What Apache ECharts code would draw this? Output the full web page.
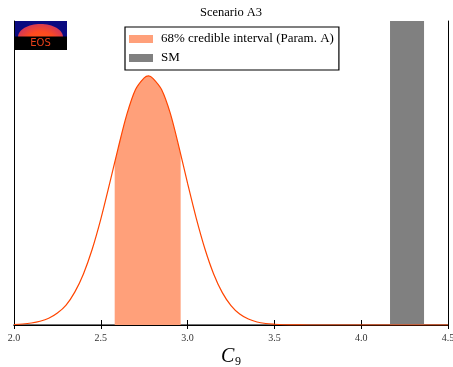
<!DOCTYPE html>
<html><head><meta charset="utf-8">
<script src="https://cdn.jsdelivr.net/npm/echarts@6/dist/echarts.min.js"></script>
<style>html,body{margin:0;padding:0;background:#fff}#c{width:453px;height:367px}</style>
</head><body><div id="c"></div>
<script>
// x ticks of the C9 axis
const xTicks = [2.0, 2.5, 3.0, 3.5, 4.0, 4.5];
// posterior curve (relative density)
const curveX = [2.00,2.05,2.10,2.15,2.20,2.25,2.30,2.35,2.40,2.45,2.50,2.55,2.60,2.65,2.70,2.75,2.775,2.80,2.85,2.90,2.95,3.00,3.05,3.10,3.15,3.20,3.25,3.30,3.35,3.40,3.45,3.50,3.55,3.60,3.70,3.80,3.90,4.00,4.10,4.20,4.30,4.40,4.50];
const curveY = [0.002,0.004,0.008,0.015,0.027,0.048,0.080,0.132,0.205,0.303,0.425,0.565,0.710,0.845,0.945,0.992,1.0,0.990,0.945,0.850,0.715,0.568,0.428,0.305,0.205,0.130,0.078,0.044,0.024,0.012,0.006,0.003,0.001,0.0005,0,0,0,0,0,0,0,0,0];
// 68% credible interval region
const intervalX = [2.58,2.60,2.65,2.70,2.75,2.775,2.80,2.85,2.90,2.95,2.96];
const intervalY = [0.652,0.710,0.845,0.945,0.992,1.0,0.990,0.945,0.850,0.715,0.683];
// Standard Model band
const smBand = [4.166, 4.362];
const intervalName = '68% credible interval (Param. A)';
const smName = 'SM';

const chart = echarts.init(document.getElementById('c'));
const serif = '"Liberation Serif", "DejaVu Serif", serif';
const zip = (xs, ys) => xs.map((x, i) => [x, ys[i]]);

chart.setOption({
  animation: false,
  backgroundColor: '#fff',
  grid: { left: 14, right: 5, top: 21, bottom: 42, outerBoundsMode: 'none', containLabel: false },
  legend: {
    orient: 'vertical',
    left: 125, top: 27,
    padding: [5, 5, 5, 4],
    itemGap: 5,
    itemWidth: 24, itemHeight: 8,
    borderColor: '#000', borderWidth: 1.2,
    backgroundColor: '#fff',
    textStyle: { fontFamily: serif, fontSize: 13, color: '#000', lineHeight: 14, padding: [0, 0, 0, 3] },
    data: [
      { name: intervalName, icon: 'rect', itemStyle: { color: '#FFA07A' } },
      { name: smName, icon: 'rect', itemStyle: { color: '#808080' } }
    ]
  },
  xAxis: [
    {
      type: 'value', min: xTicks[0], max: xTicks[xTicks.length - 1], interval: 0.5,
      position: 'bottom',
      axisLine: { lineStyle: { color: '#444', width: 1.5 } },
      axisTick: { show: true, inside: false, length: 4, lineStyle: { color: '#000' } },
      axisLabel: { fontFamily: serif, fontSize: 10, color: '#333', margin: 8,
        formatter: v => v.toFixed(1) },
      splitLine: { show: false }
    },
    {
      type: 'value', min: xTicks[0], max: xTicks[xTicks.length - 1], interval: 0.5,
      position: 'top',
      axisLine: { lineStyle: { color: '#000', width: 1 } },
      axisTick: { show: true, inside: false, length: 5, lineStyle: { color: '#000' } },
      axisLabel: { show: false },
      splitLine: { show: false }
    }
  ],
  yAxis: [
    { type: 'value', min: 0, max: 1.22, position: 'left',
      axisLine: { show: true, lineStyle: { color: '#000', width: 1 } },
      axisTick: { show: false }, axisLabel: { show: false }, splitLine: { show: false } },
    { type: 'value', min: 0, max: 1.22, position: 'right',
      axisLine: { show: true, lineStyle: { color: '#000', width: 1 } },
      axisTick: { show: false }, axisLabel: { show: false }, splitLine: { show: false } }
  ],
  series: [
    {
      name: smName, type: 'line', data: [], z: 1,
      itemStyle: { color: '#808080' },
      markArea: { silent: true, itemStyle: { color: '#808080', opacity: 1 },
        data: [[{ xAxis: smBand[0] }, { xAxis: smBand[1] }]] }
    },
    {
      name: intervalName, type: 'line', z: 2, smooth: 0.3, symbol: 'none',
      data: zip(intervalX, intervalY),
      itemStyle: { color: '#FFA07A' },
      lineStyle: { width: 0, color: '#FFA07A' },
      areaStyle: { color: '#FFA07A', opacity: 1 }
    },
    {
      name: 'curve', type: 'line', z: 3, smooth: 0.3, symbol: 'none',
      data: zip(curveX, curveY),
      lineStyle: { color: '#FF4500', width: 1.2 },
      itemStyle: { color: '#FF4500' }
    }
  ],
  graphic: [
    { type: 'text', x: 231, y: 13, style: { text: 'Scenario A3', font: '12.5px ' + serif, fill: '#000', align: 'center', verticalAlign: 'middle' } },
    { type: 'text', x: 221, y: 347, style: { text: 'C', font: 'italic 20px ' + serif, fill: '#000' } },
    { type: 'text', x: 235, y: 356, style: { text: '9', font: '12px ' + serif, fill: '#000' } },
    // EOS logo
    { type: 'rect', shape: { x: 14, y: 21, width: 53, height: 16 }, style: { fill: '#0a0a80' } },
    { type: 'ellipse', shape: { cx: 40.5, cy: 37, rx: 22.5, ry: 13 },
      style: { fill: new echarts.graphic.RadialGradient(0.5, 1, 1, [
        { offset: 0, color: '#ff6010' }, { offset: 0.7, color: '#ff4a20' }, { offset: 1, color: '#d83a50' }]) } },
    { type: 'rect', shape: { x: 14, y: 36.5, width: 53, height: 13.5 }, style: { fill: '#000' } },
    { type: 'text', x: 40.5, y: 43.5, style: { text: 'EOS', font: '10px "DejaVu Sans", sans-serif', fill: '#e8401a', align: 'center', verticalAlign: 'middle' } }
  ]
});
</script></body></html>
